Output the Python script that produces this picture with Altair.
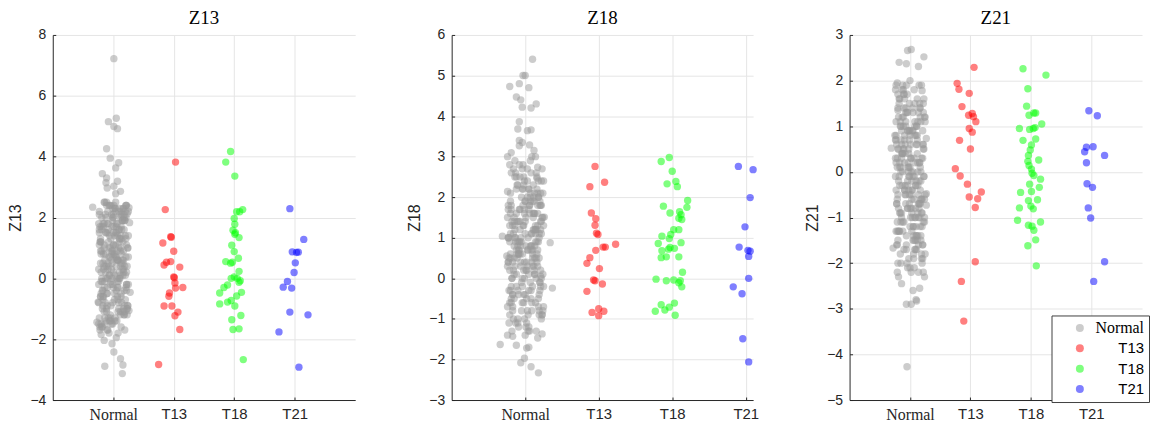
import altair as alt
import pandas as pd

groups = ["Normal", "T13", "T18", "T21"]
colors = ["#999999", "#ff0000", "#00ff00", "#0000ff"]
group_pos = {"Normal": 1, "T13": 2, "T18": 3, "T21": 4}

# shared horizontal jitter of the dense Normal core (in x units)
normal_core_dx = [
    -0.21, 0.05, 0.18, -0.09, 0.12, -0.16, 0.02, 0.22, -0.04, -0.19,
    0.09, -0.12, 0.15, -0.01, 0.24, -0.23, 0.07, -0.07, 0.19, -0.14,
    0.03, 0.11, -0.18, 0.21, -0.02, -0.10, 0.14, 0.00, -0.22, 0.17,
    -0.05, 0.08, -0.15, 0.23, -0.08, 0.13, -0.20, 0.04, 0.20, -0.11,
    0.10, -0.03, -0.17, 0.16, -0.24, 0.06, 0.01, -0.13, 0.25, -0.06,
    0.12, -0.19, 0.08, -0.01, 0.18, -0.09, 0.22, -0.15, 0.03, -0.21,
    0.14, -0.04, 0.07, -0.12, 0.19, -0.23, 0.10, 0.00, -0.17, 0.16,
    -0.07, 0.24, -0.10, 0.05, -0.20, 0.13, -0.02, 0.21, -0.14, 0.09,
    -0.05, 0.17, -0.22, 0.02, 0.11, -0.16, 0.23, -0.08, 0.06, -0.18,
    0.15, -0.03, 0.20, -0.11, 0.04, -0.24, 0.12, -0.06, 0.18, -0.13,
    0.01, 0.22, -0.19, 0.08, -0.09, 0.14, -0.01, -0.21, 0.16, 0.03,
    -0.15, 0.25, -0.04, 0.10, -0.17, 0.07, -0.12, 0.19, -0.07, 0.00,
    0.13, -0.20, 0.05, -0.10, 0.21, -0.02, 0.09, -0.23, 0.17, -0.14]

# ---------------- Z13 ----------------
z13_normal_core = [
    1.2, -0.4, 2.1, 0.3, -1.1, 1.7, 0.8, -0.2, 2.4, 0.0,
    -0.8, 1.5, 0.6, -1.5, 1.0, 2.2, -0.6, 0.4, 1.9, -1.3,
    0.1, 1.3, -0.1, 2.0, 0.9, -0.9, 1.6, 0.2, -1.7, 2.3,
    0.7, -0.3, 1.1, -1.2, 1.8, 0.5, -0.5, 2.5, 1.4, -1.0,
    0.0, 2.1, -0.7, 1.2, 0.3, -1.4, 1.7, 0.8, -0.2, 2.4,
    1.0, -1.6, 0.6, 1.9, -0.4, 1.5, 0.2, -1.1, 2.2, 0.9,
    -0.8, 1.3, -0.1, 2.0, 0.4, -1.3, 1.6, 1.1, -0.6, 2.3,
    0.1, -0.9, 1.8, 0.7, -1.5, 1.4, 0.5, -0.3, 2.5, 1.0,
    -1.2, 0.3, 1.7, -0.5, 2.1, 0.8, -1.0, 1.2, 0.0, -1.6,
    1.9, 0.6, -0.7, 2.4, 1.5, -0.2, 0.9, -1.4, 2.0, 0.2,
    1.1, -0.4, 1.6, -1.1, 0.5, 2.2, -0.8, 1.3, 0.1, -1.3,
    1.8, 0.7, -0.1, 2.3, -0.9, 1.4, 0.4, -1.7, 1.0, 2.1,
    -0.6, 0.8, 1.7, -0.3, 2.4, 0.0, -1.0, 1.5, 0.6, -1.5]
z13_normal_core2 = [
    0.5, 1.8, -1.2, 2.2, 0.1, -0.6, 1.4, 2.4, -0.2, 0.9,
    1.6, -1.4, 0.3, 2.0, -0.9, 1.1, 0.6, -1.8, 1.9, -0.3,
    2.3, 0.0, -1.0, 1.3, 0.8, -0.5, 2.1, 1.5, -1.6, 0.2,
    1.0, -0.7, 2.5, 0.4, -1.3, 1.7, -0.1, 0.7, 2.2, -1.1,
    1.2, 0.3, -0.4, 1.9, -1.5, 0.9, 2.4, -0.8, 1.4, 0.1,
    -1.2, 2.0, 0.6, -0.2, 1.6, -1.7, 1.1, 0.4, 2.3, -0.6,
    0.8, -1.4, 1.8, 0.0, -0.9, 2.1, 1.3, -0.3, 0.5, -1.1,
    2.4, 1.0, -0.5, 1.5, 0.2, -1.6, 1.7, 0.7, -0.1, 2.2,
    -1.3, 0.9, 1.2, -0.7, 2.0, 0.3, -1.0, 1.6, 0.6, -0.4,
    1.9, -1.5, 0.1, 2.5, 1.1, -0.8, 0.4, 1.4, -1.2, 2.1,
    0.8, -0.2, 1.7, -1.8, 0.0, 1.3, 2.3, -0.6, 0.5, -1.4,
    1.0, 2.2, -0.9, 0.2, 1.8, -0.3, 1.5, -1.1, 0.7, 2.0,
    -0.5, 1.2, 0.4, -1.7, 2.4, 0.9, -0.1, 1.6, -1.0, 0.6]
z13_normal_out_y = [7.22, 5.15, 5.26, 4.99, 4.92, 4.26, 3.95, 3.80, 3.63, 3.44,
                    3.30, 3.14, 3.19, 3.03, 2.97, 2.86, 2.78, 2.34, 2.32, 2.12,
                    1.83, 1.80, -0.46, -1.06, -0.78, -1.44, -2.04, -2.15, -2.42, -2.64,
                    -2.85, -3.13, -2.89, -1.85, -1.95]
z13_normal_out_dx = [0.01, -0.08, 0.05, 0.01, 0.07, -0.11, -0.05, 0.09, 0.04, -0.18,
                     -0.11, -0.12, 0.07, 0.01, -0.10, 0.12, 0.04, -0.34, 0.26, 0.23,
                     0.27, -0.24, 0.28, 0.26, -0.25, -0.27, -0.15, -0.02, 0.01, 0.12,
                     0.16, 0.15, -0.14, -0.20, 0.05]
z13_t13_y = [3.82, 2.26, 1.37, 1.35, 1.16, 0.89, 0.44, 0.53, 0.55, 0.37, 0.05, 0.02,
             -0.15, -0.30, -0.32, -0.48, -0.59, -0.91, -0.91, -1.11, -1.23, -1.68, -2.83]
z13_t13_dx = [0.03, -0.14, -0.05, -0.04, -0.18, 0.00, -0.16, -0.12, -0.05, 0.10, 0.00, 0.01,
              0.02, 0.15, 0.03, -0.07, -0.08, -0.16, -0.03, 0.07, 0.02, 0.10, -0.25]
z13_t18_y = [4.17, 3.82, 3.36, 2.26, 2.19, 2.19, 1.97, 1.78, 1.58, 1.50, 1.45, 1.34, 1.09,
             0.88, 0.66, 0.55, 0.50, 0.53, 0.23, 0.05, 0.00, 0.00, -0.08, -0.13, -0.22,
             -0.30, -0.48, -0.46, -0.58, -0.84, -0.78, -0.73, -0.91, -1.22, -1.36, -1.68,
             -1.66, -2.67]
z13_t18_dx = [-0.06, -0.14, 0.01, 0.14, 0.04, 0.09, 0.00, 0.01, -0.02, 0.02, 0.01, 0.08, -0.04,
              0.00, 0.07, -0.14, -0.06, -0.03, 0.08, 0.00, -0.05, 0.05, 0.10, 0.08, -0.11,
              -0.17, -0.24, 0.12, 0.04, -0.24, -0.11, -0.05, 0.01, 0.11, -0.04, -0.02,
              0.08, 0.15]
z13_t21_y = [2.29, 1.28, 0.87, 0.85, 0.86, 0.51, 0.19, -0.10, -0.29, -0.32, -1.11, -1.20, -1.76, -2.92]
z13_t21_dx = [-0.08, 0.15, -0.04, 0.03, 0.06, 0.01, -0.01, -0.12, -0.19, -0.05, -0.08, 0.22, -0.26, 0.07]

# ---------------- Z18 ----------------
z18_normal_core = [
    0.9, 2.2, -0.5, 1.4, 0.3, 2.7, -1.1, 1.8, 0.6, -0.2,
    1.1, 2.5, 0.0, 1.6, -0.8, 0.4, 2.0, 1.2, -0.4, 2.9,
    0.7, 1.5, -1.3, 0.2, 2.3, 0.9, -0.6, 1.9, 0.5, 1.3,
    -0.1, 2.6, 0.8, -0.9, 1.7, 0.1, 2.1, 1.0, -0.3, 1.4,
    0.6, 2.8, -0.7, 1.2, 0.3, 1.8, -1.2, 0.9, 2.4, 0.4,
    1.6, -0.5, 1.1, 0.0, 2.0, 0.7, -1.0, 1.5, 2.7, 0.2,
    1.3, -0.2, 0.8, 2.2, -0.8, 1.0, 0.5, 1.9, -0.4, 2.5,
    1.4, 0.1, -1.1, 1.7, 0.6, 2.1, -0.6, 1.2, 0.3, 3.0,
    0.9, 1.6, -0.3, 0.4, 2.3, 1.1, -0.9, 0.7, 1.8, 0.0,
    2.6, 1.3, -0.1, 0.5, -1.3, 1.5, 2.0, 0.8, -0.7, 1.0,
    0.2, 2.4, 1.7, -0.5, 0.6, 1.2, -1.0, 2.8, 0.9, 0.3,
    1.4, -0.2, 2.2, 0.7, -0.8, 1.9, 0.1, 1.1, 2.5, -0.4,
    0.5, 1.6, -1.2, 0.8, 2.1, 1.3, -0.6, 0.4, 1.8, 1.0]
z18_normal_core2 = [
    1.3, -0.3, 2.4, 0.6, 1.9, -1.0, 0.2, 1.1, 2.7, -0.6,
    0.8, 1.6, -1.3, 0.4, 2.1, 1.0, -0.1, 1.7, 0.5, 2.5,
    -0.8, 1.2, 0.0, 1.8, -0.4, 2.3, 0.9, 1.4, -1.1, 0.3,
    2.0, 0.7, -0.5, 1.5, 2.8, 0.1, 1.1, -0.9, 1.9, 0.6,
    -0.2, 2.2, 1.3, 0.4, -1.4, 1.6, 0.8, 2.6, -0.7, 1.0,
    0.2, 1.8, -0.3, 2.4, 0.9, -1.2, 1.4, 0.5, 2.0, -0.6,
    1.2, 0.0, 2.9, 0.7, -0.9, 1.7, 0.3, 1.1, -0.4, 2.2,
    0.6, 1.5, -1.0, 0.1, 1.9, 0.8, 2.5, -0.2, 1.3, 0.4,
    -0.8, 2.1, 1.0, -0.5, 1.6, 0.2, 2.7, 0.9, -1.3, 1.4,
    0.5, 1.8, -0.1, 2.3, 0.7, -0.7, 1.2, 0.3, 2.0, -1.1,
    1.5, 0.0, 2.6, 0.8, -0.4, 1.1, 1.7, -0.9, 0.6, 2.4,
    0.1, 1.3, -0.6, 1.9, 0.4, 2.1, -0.2, 1.0, 0.9, -1.4,
    1.6, 0.5, 2.2, -0.3, 1.4, 0.2, -0.8, 1.8, 0.7, 1.2]
z18_normal_out_y = [5.40, 5.00, 5.00, 4.73, 4.80, 4.70, 4.47, 4.40, 4.22, 4.30,
                    4.20, 3.86, 3.68, 3.66, 3.64, 3.40, 3.35, 3.15, 3.27, 3.29,
                    3.00, 3.10, 3.00, 2.74, 2.47, -1.63, 1.04, 0.88, -0.24, 1.51,
                    0.05, -1.37, -1.47, -1.43, -1.65, -1.70, -1.72, -1.97, -2.08, -2.18,
                    -2.33, 2.14, 0.55, -0.30, 1.80]
z18_normal_out_dx = [0.10, 0.00, -0.03, -0.21, -0.08, 0.05, -0.12, -0.06, -0.04, 0.15,
                     0.08, -0.08, -0.10, 0.08, 0.03, -0.08, -0.04, 0.12, -0.08, 0.06,
                     -0.24, -0.19, 0.14, 0.17, 0.16, -0.34, -0.31, 0.34, 0.37, 0.26,
                     0.21, 0.23, 0.17, -0.17, -0.12, 0.05, 0.02, -0.01, -0.06, 0.08,
                     0.18, -0.24, -0.25, -0.20, 0.20]
z18_t13_y = [2.76, 2.26, 2.37, 1.61, 1.47, 1.31, 1.11, 1.08, 0.84, 0.77, 0.77, 0.69, 0.51,
             0.37, 0.24, -0.04, -0.06, -0.14, -0.32, -0.75, -0.84, -0.81, -0.92]
z18_t13_dx = [-0.05, -0.12, 0.08, -0.10, -0.04, -0.05, -0.03, -0.01, 0.23, 0.09, 0.06, -0.04, -0.12,
              -0.16, 0.01, -0.07, -0.05, 0.05, -0.16, 0.00, -0.09, 0.07, 0.00]
z18_t18_y = [2.98, 2.88, 2.64, 2.33, 2.39, 2.26, 1.92, 1.75, 1.78, 1.61, 1.64, 1.57, 1.48,
             1.45, 1.20, 1.20, 1.08, 1.04, 0.98, 0.86, 0.88, 0.76, 0.74, 0.72, 0.68, 0.51,
             0.53, 0.53, 0.15, -0.02, -0.06, -0.04, -0.06, -0.11, -0.21, -0.65, -0.81,
             -0.78, -0.71, -0.61, -0.91]
z18_t18_dx = [-0.04, -0.15, 0.00, -0.07, 0.05, 0.07, 0.21, 0.20, -0.12, -0.03, 0.10, 0.12, 0.09,
              0.13, 0.02, 0.09, -0.02, -0.14, -0.04, -0.19, 0.12, -0.03, 0.03, -0.05, -0.14, -0.15,
              -0.08, 0.09, 0.14, -0.22, -0.08, 0.02, 0.11, 0.09, 0.13, -0.15, -0.23,
              -0.10, -0.04, 0.03, 0.04]
z18_t21_y = [2.76, 2.68, 1.99, 1.27, 0.77, 0.69, 0.67, 0.54, 0.00, -0.21, -0.38, -1.49, -2.06]
z18_t21_dx = [-0.10, 0.10, 0.06, -0.01, -0.09, 0.03, 0.06, 0.04, 0.04, -0.17, -0.05, -0.04, 0.04]

# ---------------- Z21 ----------------
z21_normal_core = [
    0.3, -1.2, 1.1, -0.4, 0.7, -1.8, 0.0, 1.5, -0.8, 0.5,
    -1.5, 1.9, -0.2, 0.9, -1.0, 0.2, -2.1, 1.3, -0.6, 0.6,
    -1.3, 1.0, -0.1, -1.9, 0.4, 1.7, -0.7, 0.1, -1.6, 1.2,
    -0.3, 0.8, -1.1, 1.6, -0.5, 0.0, -2.0, 1.4, -0.9, 0.5,
    -1.4, 0.9, 0.2, -0.7, 1.8, -1.2, 0.3, -0.3, 1.1, -1.7,
    0.6, -0.8, 1.5, -0.1, -1.5, 0.7, -2.2, 1.0, -0.4, 0.1,
    -1.0, 1.3, -0.6, 0.4, -1.8, 0.8, -0.2, 2.0, -1.3, 0.2,
    -0.5, 1.2, -1.1, 0.0, 1.7, -0.9, 0.5, -1.6, 0.9, -0.3,
    -2.0, 1.4, -0.7, 0.3, -1.4, 1.1, -0.1, 0.6, -1.9, 1.6,
    -0.8, 0.1, -1.2, 1.0, -0.4, 0.7, -1.5, 1.9, -0.6, 0.4,
    -1.0, 1.3, -0.2, -1.7, 0.8, -0.5, 1.5, -1.3, 0.2, -0.9,
    0.0, 1.2, -2.1, 0.6, -0.3, 1.8, -1.1, 0.3, -0.7, 0.9,
    -1.4, 0.5, -0.1, 1.4, -1.6, 0.1, -0.8, 1.1, -0.4, -1.0]
z21_normal_core2 = [
    -0.6, 0.9, -1.4, 0.2, 1.6, -0.9, -2.2, 0.6, -0.2, 1.2,
    -1.7, 0.0, 1.9, -0.5, -1.1, 0.7, -0.1, 1.4, -1.9, 0.4,
    -0.8, 1.0, -1.3, 0.3, -0.4, 1.7, -1.6, 0.8, -0.7, 0.1,
    1.3, -1.0, -2.0, 0.5, -0.3, 1.1, -1.5, 0.9, -0.6, 1.8,
    -1.2, 0.2, -0.9, 1.5, -0.1, -1.8, 0.6, 1.2, -0.5, -1.4,
    0.4, -2.3, 1.0, -0.7, 0.0, 1.6, -1.1, 0.7, -0.2, -1.6,
    1.3, -0.8, 0.3, -1.3, 1.9, -0.4, 0.8, -2.1, 0.1, -1.0,
    1.1, -0.6, 0.5, -1.5, 1.4, -0.3, -1.9, 0.9, -0.9, 0.2,
    1.7, -1.2, 0.6, -0.5, -1.7, 1.0, -0.1, 0.4, -1.4, 1.5,
    -0.7, 0.0, -2.0, 1.2, -1.0, 0.3, 0.8, -1.6, -0.2, 1.8,
    -0.8, 0.5, -1.3, 1.1, -0.4, -2.2, 0.7, -1.1, 1.4, -0.6,
    0.1, -1.8, 0.9, -0.3, 1.6, -1.5, 0.4, -0.9, 1.0, -1.2,
    0.2, -0.5, 1.3, -1.7, 0.6, -0.1, -1.0, 1.9, -0.7, 0.3]
z21_normal_out_y = [2.66, 2.68, 2.52, 2.40, 2.37, 2.31, 1.95, 1.78, 0.52, 0.73,
                    -0.48, -0.73, -1.67, -2.20, -2.45, -2.30, -2.55, -2.60, -2.80, -2.90,
                    -2.90, -2.83, -4.27, 0.80, -1.30, 1.35]
z21_normal_out_dx = [-0.04, 0.02, 0.23, -0.18, -0.06, 0.14, -0.21, 0.20, -0.31, 0.27,
                     0.27, 0.27, -0.28, -0.21, -0.14, 0.24, 0.16, 0.05, 0.10, -0.06,
                     0.02, 0.11, -0.05, -0.25, -0.23, -0.20]
z21_t13_y = [2.29, 1.94, 1.81, 1.72, 1.43, 1.24, 1.28, 1.21, 1.10, 0.95, 0.87, 0.69, 0.50,
             0.07, -0.09, -0.27, -0.44, -0.55, -0.59, -0.78, -1.97, -2.40, -3.27]
z21_t13_dx = [0.06, -0.22, -0.19, -0.02, -0.14, -0.03, 0.03, 0.05, 0.09, -0.02, 0.03, -0.18, 0.00,
              -0.25, -0.17, -0.05, 0.18, -0.02, 0.12, 0.08, 0.08, -0.15, -0.11]
z21_t18_y = [2.26, 2.12, 1.82, 1.44, 1.24, 1.29, 1.29, 1.05, 0.95, 0.93, 0.95, 0.97, 0.72,
             0.69, 0.59, 0.48, 0.36, 0.26, 0.23, 0.14, 0.06, -0.03, -0.08, -0.16, -0.27,
             -0.34, -0.45, -0.43, -0.63, -0.61, -0.79, -0.75, -0.81, -1.10, -1.06, -1.17,
             -1.19, -1.28, -1.49, -1.62, -2.06]
z21_t18_dx = [-0.13, 0.25, -0.05, -0.07, -0.03, 0.05, 0.08, 0.18, -0.19, -0.02, 0.04, 0.07, 0.08,
              -0.13, 0.01, -0.01, -0.04, 0.13, -0.05, -0.03, 0.01, 0.02, 0.05, 0.16, -0.02,
              0.14, -0.17, 0.01, -0.04, 0.11, -0.19, 0.00, 0.04, 0.16, -0.22, -0.04,
              0.02, 0.05, 0.08, -0.05, 0.09]
z21_t21_y = [1.34, 1.23, 0.54, 0.44, 0.55, 0.36, 0.20, -0.26, -0.34, -0.79, -1.01, -1.97, -2.40]
z21_t21_dx = [-0.04, 0.10, -0.08, -0.11, 0.03, 0.22, -0.08, -0.07, 0.02, -0.05, -0.01, 0.22, 0.04]

panels = [
    ("Z13", [z13_normal_core, z13_normal_core2], z13_normal_out_y, z13_normal_out_dx,
     [(z13_t13_y, z13_t13_dx), (z13_t18_y, z13_t18_dx), (z13_t21_y, z13_t21_dx)],
     [-4, 8], list(range(-4, 9, 2)), 5.0, 304),
    ("Z18", [z18_normal_core, z18_normal_core2], z18_normal_out_y, z18_normal_out_dx,
     [(z18_t13_y, z18_t13_dx), (z18_t18_y, z18_t18_dx), (z18_t21_y, z18_t21_dx)],
     [-3, 6], list(range(-3, 7)), 4.1, 303),
    ("Z21", [z21_normal_core, z21_normal_core2], z21_normal_out_y, z21_normal_out_dx,
     [(z21_t13_y, z21_t13_dx), (z21_t18_y, z21_t18_dx), (z21_t21_y, z21_t21_dx)],
     [-5, 3], list(range(-5, 4)), 4.84, 294),
]

AXC = "#262626"
GRID = "#e5e5e5"


def make_panel(name, cores, out_y, out_dx, others, ydom, yvals, xmax, w, show_legend):
    rows = []
    for core in cores:
        for y, dx in zip(core, normal_core_dx):
            rows.append({"group": "Normal", "pos": group_pos["Normal"], "y": y, "dx": dx})
    for y, dx in zip(out_y, out_dx):
        rows.append({"group": "Normal", "pos": group_pos["Normal"], "y": y, "dx": dx})
    for g, (ys, dxs) in zip(groups[1:], others):
        for y, dx in zip(ys, dxs):
            rows.append({"group": g, "pos": group_pos[g], "y": y, "dx": dx})
    df = pd.DataFrame(rows)

    if show_legend:
        legend = alt.Legend(
            orient="none", legendX=203, legendY=282, title=None,
            strokeColor="#404040", fillColor="white", padding=5,
            symbolType="circle", symbolSize=64, symbolOpacity=0.5,
            symbolStrokeWidth=0, symbolOffset=16,
            labelFont=alt.ExprRef("datum.value === 'Normal' ? 'Liberation Serif' : 'Liberation Sans'"),
            labelFontSize=alt.ExprRef("datum.value === 'Normal' ? 16 : 15"),
            labelColor="black", labelOffset=57, labelAlign="right",
            rowPadding=4.5, cornerRadius=0,
        )
    else:
        legend = None

    x_axis = alt.Axis(
        values=[1, 2, 3, 4],
        labelExpr="['', 'Normal', 'T13', 'T18', 'T21'][datum.value]",
        title=None, grid=True, gridColor=GRID,
        ticks=True, tickSize=alt.ExprRef("-3"), tickColor=AXC,
        domainColor=AXC, labelColor=AXC, labelPadding=10, labelFlush=False,
        labelFont=alt.condition("datum.value == 1", alt.value("Liberation Serif"), alt.value("Liberation Sans")),
        labelFontSize=alt.condition("datum.value == 1", alt.value(16), alt.value(15)),
    )
    y_axis = alt.Axis(
        values=yvals, title=name, grid=True, gridColor=GRID,
        ticks=True, tickSize=alt.ExprRef("-3"), tickColor=AXC,
        domainColor=AXC, labelColor=AXC, labelFont="Liberation Sans", labelFontSize=14,
        labelPadding=10, titleFont="Liberation Sans", titleFontSize=16,
        titleFontWeight="normal", titleColor=AXC, titlePadding=6,
    )

    return alt.Chart(
        df,
        title=alt.Title(name, font="Liberation Serif", fontSize=19, fontWeight="normal",
                        color="black", offset=0),
    ).transform_calculate(
        xpos="datum.pos + datum.dx"
    ).mark_circle(size=55, opacity=0.5).encode(
        x=alt.X("xpos:Q", scale=alt.Scale(domain=[0, xmax], nice=False, zero=False), axis=x_axis),
        y=alt.Y("y:Q", scale=alt.Scale(domain=ydom, nice=False, zero=False), axis=y_axis),
        color=alt.Color("group:N", scale=alt.Scale(domain=groups, range=colors), legend=legend),
    ).properties(width=w, height=367)


charts = [make_panel(*p, show_legend=(i == 2)) for i, p in enumerate(panels)]

chart = alt.hconcat(*charts, spacing=97, bounds="flush").resolve_scale(
    color="independent"
).resolve_legend(
    color="independent"
).configure_view(
    stroke=None
).properties(
    padding={"left": 0, "top": 0, "right": 0, "bottom": 0},
    background="white",
)

chart.save("out.html", embed_options={"renderer": "svg", "actions": False})
